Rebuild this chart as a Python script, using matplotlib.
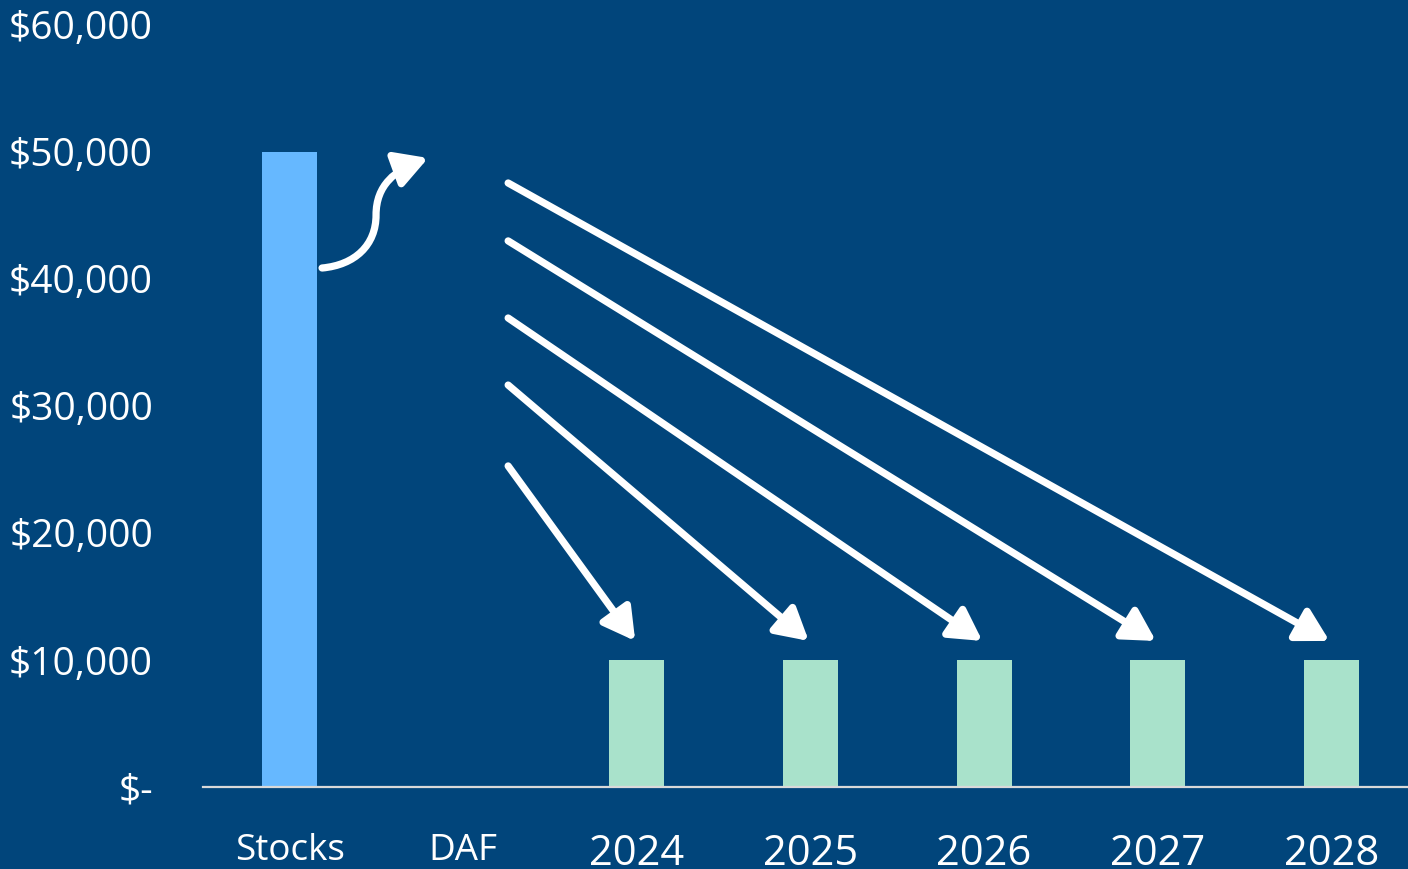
import numpy as np
import matplotlib
matplotlib.use("Agg")
import matplotlib.pyplot as plt
from matplotlib.patches import FancyArrowPatch
from matplotlib.path import Path
from matplotlib.ticker import FuncFormatter

categories = ["Stocks", "DAF", "2024", "2025", "2026", "2027", "2028"]
values = [50000, 0, 10000, 10000, 10000, 10000, 10000]
bar_colors = ["#66b8ff", "#66b8ff", "#a9e2cb", "#a9e2cb", "#a9e2cb", "#a9e2cb", "#a9e2cb"]
yticks = [0, 10000, 20000, 30000, 40000, 50000, 60000]

bg = "#01457b"
plt.rcParams["font.family"] = ["Open Sans", "DejaVu Sans"]

fig = plt.figure(figsize=(14.08, 8.69), dpi=100, facecolor=bg)
ax = fig.add_axes([203 / 1408, 1 - 787 / 869, 1215 / 1408, 762 / 869])
ax.set_facecolor(bg)

x = np.arange(len(categories))
ax.bar(x, values, width=0.317, color=bar_colors, zorder=2)

ax.set_xlim(-0.5, len(categories) - 0.5)
ax.set_ylim(0, 60000)
ax.set_yticks(yticks)
ax.yaxis.set_major_formatter(FuncFormatter(lambda v, p: "$-" if v == 0 else f"${v:,.0f}"))
ax.set_xticks(x)
ax.set_xticklabels(categories)
for i, lab in enumerate(ax.get_xticklabels()):
    lab.set_fontsize(26.5 if i < 2 else 30)
ax.tick_params(axis="y", colors="white", labelsize=28, length=0, pad=36)
ax.tick_params(axis="x", colors="white", length=0, pad=33)
for s in ["top", "right", "left"]:
    ax.spines[s].set_visible(False)
ax.spines["bottom"].set_color("#d9d9d9")
ax.spines["bottom"].set_linewidth(1.6)
ax.spines["bottom"].set_zorder(3)

arrow_kw = dict(arrowstyle="-|>,head_length=1.6,head_width=0.9", color="white",
                lw=5.2, mutation_scale=12, zorder=4, shrinkA=0, shrinkB=0)

# curved arrow from stocks into the DAF
verts = [(0.186, 40866), (0.376, 41102), (0.497, 42677), (0.497, 45039),
         (0.497, 47402), (0.607, 48583), (0.797, 49528)]
codes = [Path.MOVETO] + [Path.CURVE4] * 6
ax.add_patch(FancyArrowPatch(path=Path(verts, codes), **arrow_kw))

# grants from the DAF to each year
starts = [25280, 31650, 36930, 43000, 47560]
for k, y0 in enumerate(starts):
    i = 2 + k
    ax.add_patch(FancyArrowPatch((1.258, y0), (i - 0.01, values[i] + 1500), **arrow_kw))

fig.savefig("out.png", dpi=100, facecolor=bg)
